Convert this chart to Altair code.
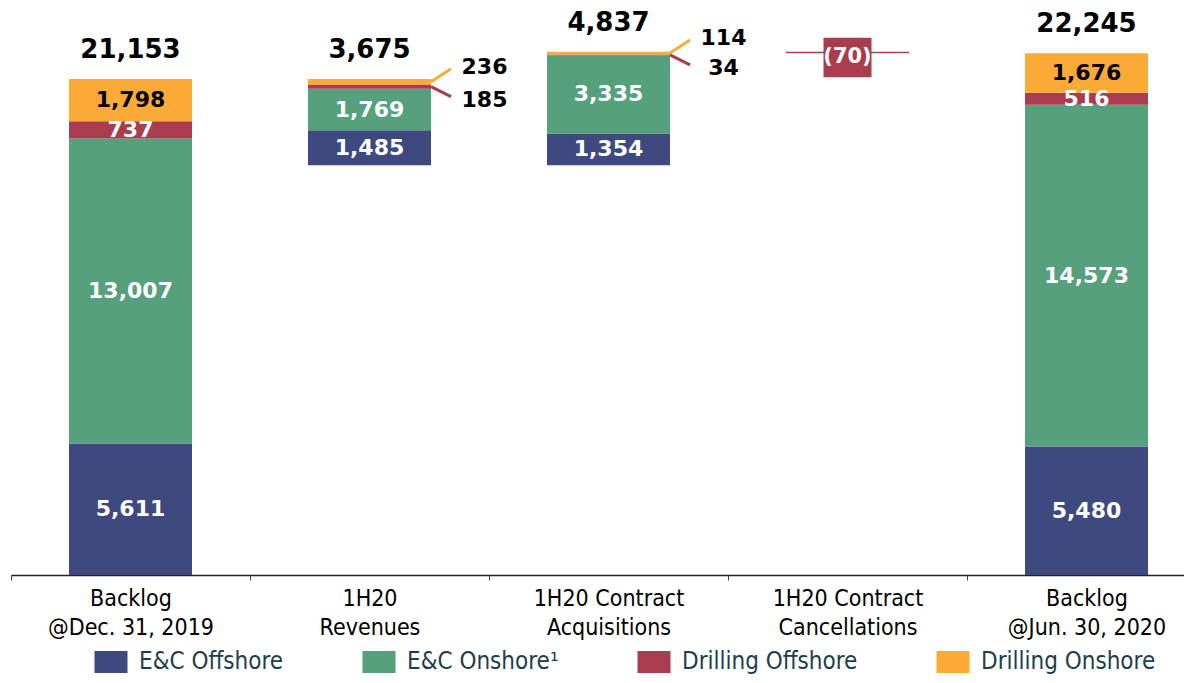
import altair as alt
import pandas as pd

categories = ["Backlog|@Dec. 31, 2019", "1H20|Revenues", "1H20 Contract|Acquisitions",
              "1H20 Contract|Cancellations", "Backlog|@Jun. 30, 2020"]
segments = ["E&C Offshore", "E&C Onshore\u00b9", "Drilling Offshore", "Drilling Onshore"]
colors = ["#3e4a7f", "#56a07d", "#aa3c4f", "#fbab35"]

backlog_dec = [5611, 13007, 737, 1798]
revenues = [1485, 1769, 185, 236]
acquisitions = [1354, 3335, 34, 114]
cancellations = [0, 0, 70, 0]
backlog_jun = [5480, 14573, 516, 1676]

NUM_FONT = "DejaVu Sans"
TXT_FONT = "DejaVu Sans Condensed, Liberation Sans Narrow, DejaVu Sans"

series = [backlog_dec, revenues, acquisitions, cancellations, backlog_jun]
rev_base = sum(backlog_dec) - sum(revenues)
canc_base = rev_base + sum(acquisitions) - sum(cancellations)
bases = [0, rev_base, rev_base, canc_base, 0]

bar_rows, inside, out_up, out_down, totals, box = [], [], [], [], [], []
for ci, (cat, vals, base) in enumerate(zip(categories, series, bases)):
    cur = base
    for si, (seg, v) in enumerate(zip(segments, vals)):
        if v == 0:
            continue
        start, end = cur, cur + v
        cur = end
        mid = (start + end) / 2
        bar_rows.append({"cat": cat, "seg": seg, "start": start, "end": end})
        if ci == 3:
            box.append({"cat": cat, "top": end, "bottom": start, "mid": mid,
                        "text": f"({v:,})"})
        elif ci in (1, 2) and si >= 2:
            row = {"cat": cat, "mid": mid, "text": f"{v:,}"}
            (out_up if si == 3 else out_down).append(row)
        else:
            inside.append({"cat": cat, "mid": mid, "text": f"{v:,}",
                           "tcolor": "black" if si == 3 else "white"})
    if ci != 3:
        totals.append({"cat": cat, "top": cur, "text": f"{sum(vals):,}"})

bar_df = pd.DataFrame(bar_rows)
x_enc = alt.X("cat:N", sort=categories, title=None,
              scale=alt.Scale(range=[0, 1195], paddingInner=0, paddingOuter=0),
              axis=alt.Axis(labelExpr="split(datum.label, '|')", labelAngle=0,
                            labelFont=TXT_FONT, labelFontSize=23, labelColor="black",
                            labelLineHeight=29, labelPadding=7, labelBaseline="top",
                            domainColor="#222", domainWidth=1.5, tickColor="#444",
                            tickSize=5, tickWidth=1, tickBand="extent", grid=False))
y_scale = alt.Scale(domain=[0, 24180], nice=False, zero=True)

bars = alt.Chart(bar_df).mark_bar(width=123).encode(
    x=x_enc,
    y=alt.Y("start:Q", scale=y_scale, axis=None),
    y2="end:Q",
    color=alt.Color("seg:N", scale=alt.Scale(domain=segments, range=colors),
                    legend=alt.Legend(orient="none", legendX=88, legendY=642,
                                      direction="horizontal", title=None, padding=0,
                                      symbolType="M-1.5,-1H1.5V1H-1.5Z", symbolSize=484,
                                      symbolStrokeWidth=0, labelFont=TXT_FONT,
                                      labelFontSize=24, labelColor="#1f3d4a",
                                      labelOffset=16, columnPadding=78, labelLimit=300)),
    order=alt.Order("start:Q"),
)

inside_lbl = alt.Chart(pd.DataFrame(inside)).mark_text(
    font=NUM_FONT, fontSize=22, fontWeight="bold", baseline="middle").encode(
    x=alt.X("cat:N", sort=categories), y=alt.Y("mid:Q", scale=y_scale),
    text="text:N", color=alt.Color("tcolor:N", scale=None))

total_lbl = alt.Chart(pd.DataFrame(totals)).mark_text(
    font=NUM_FONT, fontSize=26, fontWeight="bold", baseline="middle", dy=-29,
    color="black").encode(
    x=alt.X("cat:N", sort=categories), y=alt.Y("top:Q", scale=y_scale), text="text:N")

up_df = pd.DataFrame(out_up)
down_df = pd.DataFrame(out_down)
up_line = alt.Chart(up_df).mark_rule(color=colors[3], strokeWidth=3,
                                     xOffset=61.5, x2Offset=81.5, y2Offset=-13).encode(
    x=alt.X("cat:N", sort=categories), x2="cat:N",
    y=alt.Y("mid:Q", scale=y_scale), y2="mid:Q")
down_line = alt.Chart(down_df).mark_rule(color=colors[2], strokeWidth=3,
                                         xOffset=61.5, x2Offset=81.5, y2Offset=10).encode(
    x=alt.X("cat:N", sort=categories), x2="cat:N",
    y=alt.Y("mid:Q", scale=y_scale), y2="mid:Q")
up_lbl = alt.Chart(up_df).mark_text(font=NUM_FONT, fontSize=22, fontWeight="bold",
                                    baseline="middle", dx=115, dy=-15, color="black").encode(
    x=alt.X("cat:N", sort=categories), y=alt.Y("mid:Q", scale=y_scale), text="text:N")
down_lbl = alt.Chart(down_df).mark_text(font=NUM_FONT, fontSize=22, fontWeight="bold",
                                        baseline="middle", dx=115, dy=13, color="black").encode(
    x=alt.X("cat:N", sort=categories), y=alt.Y("mid:Q", scale=y_scale), text="text:N")

box_df = pd.DataFrame(box)
box_rect = alt.Chart(box_df).mark_bar(width=48, color=colors[2], yOffset=-14,
                                      y2Offset=24).encode(
    x=alt.X("cat:N", sort=categories), y=alt.Y("top:Q", scale=y_scale), y2="bottom:Q")
box_lbl = alt.Chart(box_df).mark_text(font=NUM_FONT, fontSize=21, fontWeight="bold",
                                      baseline="middle", dy=4, color="white").encode(
    x=alt.X("cat:N", sort=categories), y=alt.Y("mid:Q", scale=y_scale), text="text:N")

chart = alt.layer(bars, box_rect, inside_lbl, total_lbl, up_line, down_line,
                  up_lbl, down_lbl, box_lbl).properties(
    width=1173, height=567,
    autosize=alt.AutoSizeParams(type="none"),
    padding={"left": 3, "top": 0, "right": 0, "bottom": 100},
).configure_view(stroke=None)

chart.save("out.html", embed_options={"renderer": "svg", "actions": False})
